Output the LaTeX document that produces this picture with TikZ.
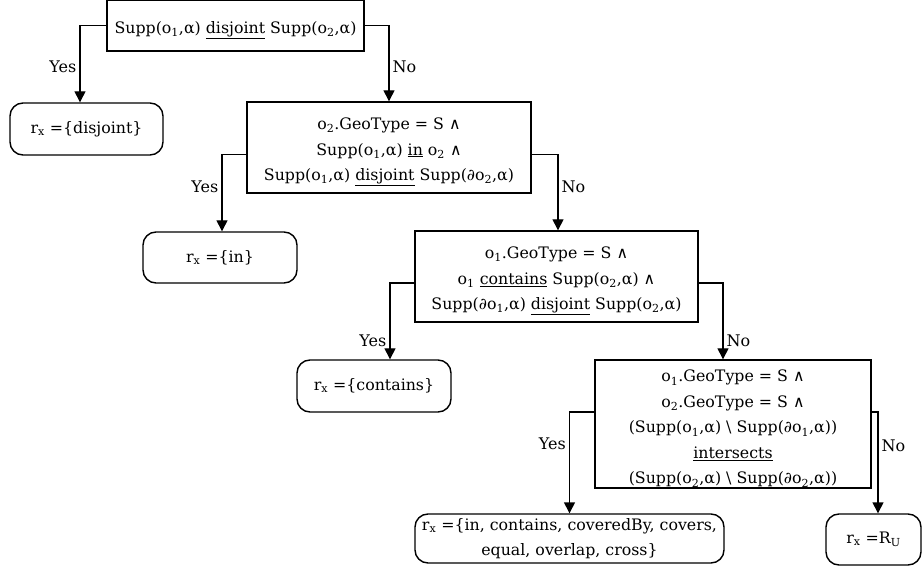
\documentclass[tikz,border=0pt]{standalone}
\usepackage{fontspec}
\setmainfont{DejaVu Serif}
\usetikzlibrary{arrows.meta,calc}
\newcommand{\sbs}[1]{\textsubscript{#1}}
\newcommand{\fl}{\rule{0pt}{21pt}}
\begin{document}
\begin{tikzpicture}[x=1pt,y=-1pt,
  dec/.style={draw, line width=1.4pt, rectangle, inner sep=0pt, align=center,
    font=\fontsize{15.8}{25.5}\selectfont},
  res/.style={draw, line width=1.4pt, rectangle, rounded corners=13pt, inner sep=0pt, align=center,
    font=\fontsize{15.8}{25}\selectfont},
  arr/.style={-{Triangle[length=11pt,width=11pt]}, line width=1.4pt},
  lab/.style={font=\fontsize{16}{20}\selectfont, inner sep=3pt}]
\useasboundingbox (0,0) rectangle (922,572);

\node[dec, minimum width=257pt, minimum height=51pt] (d1) at (235.5,25.5)
  {\fl Supp(o\sbs{1},α) \underline{disjoint} Supp(o\sbs{2},α)};
\node[res, minimum width=153pt, minimum height=52pt] (r1) at (86.5,129)
  {r\sbs{x} =\{disjoint\}};

\node[dec, minimum width=284pt, minimum height=91pt] (d2) at (389,147.5)
  {\fl o\sbs{2}.GeoType = S ∧\\ Supp(o\sbs{1},α) \underline{in} o\sbs{2} ∧\\ Supp(o\sbs{1},α) \underline{disjoint} Supp(∂o\sbs{2},α)};
\node[res, minimum width=154pt, minimum height=51pt] (r2) at (220,257.5)
  {r\sbs{x} =\{in\}};

\node[dec, minimum width=283pt, minimum height=91pt] (d3) at (556.5,276.5)
  {\fl o\sbs{1}.GeoType = S ∧\\ o\sbs{1} \underline{contains} Supp(o\sbs{2},α) ∧\\ Supp(∂o\sbs{1},α) \underline{disjoint} Supp(o\sbs{2},α)};
\node[res, minimum width=154pt, minimum height=52pt] (r3) at (374,386)
  {r\sbs{x} =\{contains\}};

\node[dec, minimum width=276pt, minimum height=128pt] (d4) at (733,424)
  {\fl o\sbs{1}.GeoType = S ∧\\ o\sbs{2}.GeoType = S ∧\\ (Supp(o\sbs{1},α) \textbackslash\ Supp(∂o\sbs{1},α))\\ \underline{intersects}\\ (Supp(o\sbs{2},α) \textbackslash\ Supp(∂o\sbs{2},α))};
\node[res, minimum width=309pt, minimum height=49pt] (r4) at (569.5,538.5)
  {r\sbs{x} =\{in, contains, coveredBy, covers,\\ equal, overlap, cross\}};
\node[res, minimum width=95pt, minimum height=51pt] (r5) at (873.5,539.5)
  {r\sbs{x} =R\sbs{U}};

\draw[arr] (d1.west) -| ([xshift=-6.5pt]r1.north) node[lab, pos=0.77, left] {Yes};
\draw[arr] (d1.east) -| (d2.north) node[lab, pos=0.77, right] {No};

\draw[arr] ([yshift=-7pt]d2.west) -| ([xshift=2pt]r2.north) node[lab, pos=0.71, left] {Yes};
\draw[arr] ([yshift=-7pt]d2.east) -| ([xshift=1.5pt]d3.north) node[lab, pos=0.71, right] {No};

\draw[arr] ([yshift=-6.5pt]d3.west) -| ([xshift=16pt]r3.north) node[lab, pos=0.88, left] {Yes};
\draw[arr] ([yshift=-6.5pt]d3.east) -| ([xshift=-10pt]d4.north) node[lab, pos=0.88, right] {No};

\draw[arr] ([yshift=12pt]d4.west) -| (r4.north) node[lab, pos=0.655, left] {Yes};
\draw[arr] ([yshift=12pt]d4.east) -| ([xshift=4.5pt]r5.north) node[lab, pos=0.665, right] {No};
\end{tikzpicture}
\end{document}
